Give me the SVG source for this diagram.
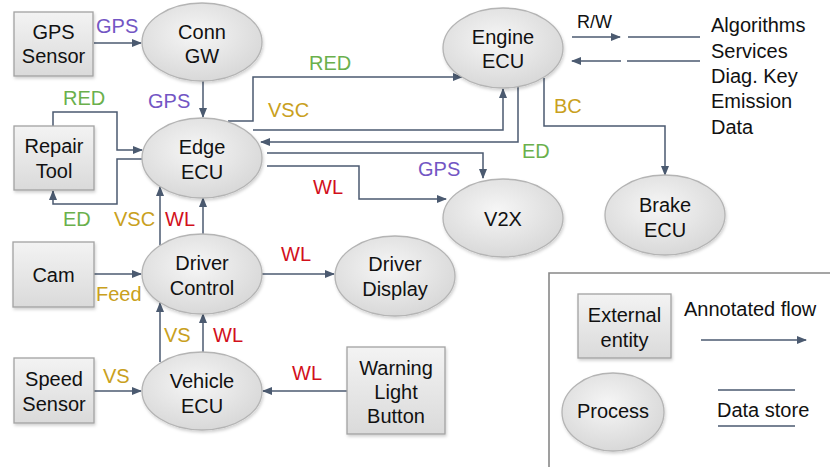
<svg xmlns="http://www.w3.org/2000/svg" width="830" height="467" viewBox="0 0 830 467">
<style>
text{font-family:"Liberation Sans",Arial,Helvetica,sans-serif;font-size:20px;fill:#111}
.box{fill:url(#gBox);stroke:#a2a2a2;stroke-width:1.3;filter:url(#sh)}
.proc{fill:url(#gProc);stroke:#b4b4b4;stroke-width:1.3;filter:url(#sh)}
.c{fill:none;stroke:#4b5a70;stroke-width:1.5}
.a{marker-end:url(#ah)}
.ds{fill:none;stroke:#4b5a70;stroke-width:1.3}
.n{text-anchor:middle}
.gps{fill:#7356c4}
.red{fill:#6ab04c}
.vsc{fill:#c9a020}
.wl{fill:#d2101c}
</style>
<defs>
<linearGradient id="gBox" x1="0" y1="0" x2="0" y2="1"><stop offset="0" stop-color="#f3f3f3"/><stop offset="1" stop-color="#dadada"/></linearGradient>
<radialGradient id="gProc" cx="0.45" cy="0.4" r="0.65"><stop offset="0" stop-color="#f6f6f6"/><stop offset="1" stop-color="#d6d6d6"/></radialGradient>
<filter id="sh" x="-10%" y="-10%" width="125%" height="130%"><feDropShadow dx="1" dy="2" stdDeviation="1.5" flood-color="#000" flood-opacity="0.18"/></filter>
<marker id="ah" markerWidth="10" markerHeight="8" refX="9" refY="4" orient="auto" markerUnits="userSpaceOnUse"><path d="M0,0 L10,4 L0,8 Z" fill="#4b5a70"/></marker>
</defs>

<g id="connectors">
<path class="c a" d="M94,43 H141"/>
<path class="c a" d="M203,81 V117"/>
<path class="c a" d="M53,126 V112 H117 V150 H142"/>
<path class="c a" d="M143,159 H117 V204 H53 V191"/>
<path class="c a" d="M228,121 H253 V77 H462"/>
<path class="c a" d="M253,130 H503 V89"/>
<path class="c a" d="M518,87 V142 H261"/>
<path class="c a" d="M267,153 H483 V178"/>
<path class="c a" d="M267,166 H359 V199 H446"/>
<path class="c a" d="M572,37 H620"/>
<path class="c a" d="M621,61 H572"/>
<path class="ds" d="M628,37 H700 M627,61 H700"/>
<path class="c a" d="M544,78 V126 H665 V175"/>
<path class="c a" d="M94,274 H141"/>
<path class="c a" d="M262,274 H334"/>
<path class="c a" d="M94,391 H141"/>
<path class="c a" d="M347,391 H263"/>
<path class="c a" d="M160,362 V303"/>
<path class="c a" d="M203,352 V314"/>
<path class="c a" d="M160,245 V187"/>
<path class="c a" d="M203,234 V198"/>
</g>

<g id="flow-labels">
<text class="gps" x="96" y="33">GPS</text>
<text class="gps" x="148" y="108">GPS</text>
<text class="red" x="63" y="105">RED</text>
<text class="red" x="63" y="226">ED</text>
<text class="vsc" x="114" y="226">VSC</text>
<text class="wl" x="165" y="226">WL</text>
<text class="red" x="309" y="70">RED</text>
<text class="vsc" x="268" y="117">VSC</text>
<text class="red" x="522" y="158">ED</text>
<text class="gps" x="418" y="176">GPS</text>
<text class="wl" x="313" y="194">WL</text>
<text x="577" y="28" style="font-size:18px">R/W</text>
<text class="vsc" x="554" y="113">BC</text>
<text class="vsc" x="96" y="301">Feed</text>
<text class="wl" x="281" y="261">WL</text>
<text class="vsc" x="164" y="342">VS</text>
<text class="wl" x="213" y="342">WL</text>
<text class="vsc" x="103" y="383">VS</text>
<text class="wl" x="292" y="380">WL</text>
</g>

<g id="gps-sensor"><rect class="box" x="14" y="12" width="79" height="64"/><text class="n" x="53.5" y="39">GPS</text><text class="n" x="53.5" y="63">Sensor</text></g>
<g id="conn-gw"><ellipse class="proc" cx="202" cy="42" rx="60" ry="39"/><text class="n" x="202" y="39">Conn</text><text class="n" x="202" y="63">GW</text></g>
<g id="repair-tool"><rect class="box" x="14" y="126" width="80" height="64"/><text class="n" x="54" y="153">Repair</text><text class="n" x="54" y="178">Tool</text></g>
<g id="edge-ecu"><ellipse class="proc" cx="202" cy="158" rx="60" ry="40"/><text class="n" x="202" y="154">Edge</text><text class="n" x="202" y="179">ECU</text></g>
<g id="engine-ecu"><ellipse class="proc" cx="503" cy="48" rx="60" ry="40"/><text class="n" x="503" y="44">Engine</text><text class="n" x="503" y="68">ECU</text></g>
<g id="data-store"><text x="711" y="32">Algorithms</text><text x="711" y="58">Services</text><text x="711" y="83">Diag. Key</text><text x="711" y="108">Emission</text><text x="711" y="134">Data</text></g>
<g id="v2x"><ellipse class="proc" cx="503" cy="218" rx="60" ry="39"/><text class="n" x="503" y="226">V2X</text></g>
<g id="brake-ecu"><ellipse class="proc" cx="665" cy="215" rx="60" ry="40"/><text class="n" x="665" y="212">Brake</text><text class="n" x="665" y="237">ECU</text></g>
<g id="cam"><rect class="box" x="13" y="242" width="81" height="65"/><text class="n" x="53.5" y="282">Cam</text></g>
<g id="driver-control"><ellipse class="proc" cx="202" cy="274" rx="60" ry="40"/><text class="n" x="202" y="270">Driver</text><text class="n" x="202" y="295">Control</text></g>
<g id="driver-display"><ellipse class="proc" cx="395" cy="276" rx="60" ry="40"/><text class="n" x="395" y="271">Driver</text><text class="n" x="395" y="296">Display</text></g>
<g id="speed-sensor"><rect class="box" x="14" y="358" width="80" height="65"/><text class="n" x="54" y="386">Speed</text><text class="n" x="54" y="411">Sensor</text></g>
<g id="vehicle-ecu"><ellipse class="proc" cx="202" cy="391" rx="60" ry="39"/><text class="n" x="202" y="388">Vehicle</text><text class="n" x="202" y="413">ECU</text></g>
<g id="warning-light-button"><rect class="box" x="347" y="347" width="98" height="87"/><text class="n" x="396" y="375">Warning</text><text class="n" x="396" y="399">Light</text><text class="n" x="396" y="423">Button</text></g>

<g id="legend">
<path d="M549,470 V273 H835" fill="none" stroke="#888" stroke-width="1.6"/>
<rect class="box" x="578" y="294" width="93" height="64"/>
<text class="n" x="624.5" y="322">External</text><text class="n" x="624.5" y="347">entity</text>
<text x="684" y="316">Annotated flow</text>
<path class="c a" d="M701,340 H806"/>
<ellipse class="proc" cx="613" cy="412" rx="51" ry="39"/>
<text class="n" x="613" y="418">Process</text>
<path class="ds" d="M718,390 H795 M718,426 H795"/>
<text x="717" y="417">Data store</text>
</g>
</svg>
